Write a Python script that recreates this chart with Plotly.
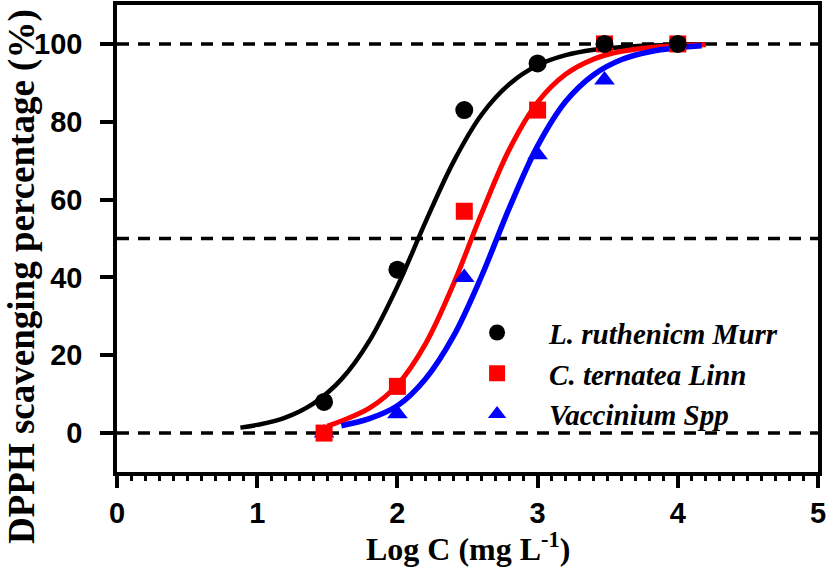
import plotly.graph_objects as go

# ---- data ----
log_c = [1.477, 2.0, 2.477, 3.0, 3.477, 4.0]
murr_pts = [8, 42, 83, 95, 100, 100]
linn_pts = [0, 12, 57, 83, 100, 100]
spp_pts = [0, 5, 40, 71.5, 90.7, 100]

# fitted curves
murr_fit_x = [0.88, 1.0, 1.2, 1.4, 1.6, 1.8, 2.0, 2.2, 2.4, 2.6, 2.8, 3.0, 3.2, 3.4, 3.6, 3.8, 4.0, 4.2]
murr_fit_y = [1.4, 2.1, 4.0, 7.6, 13.8, 23.7, 37.7, 54.2, 69.7, 81.8, 89.7, 94.5, 97.1, 98.5, 99.2, 99.6, 99.8, 99.9]
linn_fit_x = [1.5, 1.6, 1.8, 2.0, 2.2, 2.4, 2.6, 2.8, 3.0, 3.2, 3.4, 3.6, 3.8, 4.0, 4.2]
linn_fit_y = [1.8, 3.1, 6.4, 12.4, 22.9, 38.3, 56.4, 73.0, 85.0, 92.2, 96.1, 98.1, 99.1, 99.6, 99.8]
spp_fit_x = [1.6, 1.8, 2.0, 2.2, 2.4, 2.6, 2.8, 3.0, 3.2, 3.4, 3.6, 3.8, 4.0, 4.17]
spp_fit_y = [1.9, 3.7, 7.0, 13.9, 24.9, 40.3, 58.0, 73.8, 85.2, 92.1, 96.0, 98.0, 99.0, 99.5]

names = ["L. ruthenicm Murr", "C. ternatea Linn", "Vaccinium Spp"]
ref_levels = [0, 50, 100]
x_ticks = [0, 1, 2, 3, 4, 5]
y_ticks = [0, 20, 40, 60, 80, 100]

BLACK, RED, BLUE = "#000000", "#ff0000", "#0000ff"
TICK_FONT = dict(family="Liberation Sans, Arial", size=29, color="black", weight="bold")
SERIF = "Liberation Serif, Times New Roman"

fig = go.Figure()

# dashed reference lines
for lv in ref_levels:
    fig.add_trace(go.Scatter(x=[0, 5], y=[lv, lv], mode="lines",
                             line=dict(color="black", width=3.5, dash="12px,9px"),
                             showlegend=False, hoverinfo="skip"))

# fitted curves
fig.add_trace(go.Scatter(x=murr_fit_x, y=murr_fit_y, mode="lines", line=dict(color=BLACK, width=4.5, shape="spline"),
                         showlegend=False))
fig.add_trace(go.Scatter(x=linn_fit_x, y=linn_fit_y, mode="lines", line=dict(color=RED, width=5, shape="spline"),
                         showlegend=False))
fig.add_trace(go.Scatter(x=spp_fit_x, y=spp_fit_y, mode="lines", line=dict(color=BLUE, width=5.5, shape="spline"),
                         showlegend=False))

# data points
fig.add_trace(go.Scatter(x=log_c, y=spp_pts, mode="markers", name=names[2], legendrank=3,
                         marker=dict(symbol="triangle-up", size=18, color=BLUE)))
fig.add_trace(go.Scatter(x=log_c, y=linn_pts, mode="markers", name=names[1], legendrank=2,
                         marker=dict(symbol="square", size=17, color=RED)))
fig.add_trace(go.Scatter(x=log_c, y=murr_pts, mode="markers", name=names[0], legendrank=1,
                         marker=dict(symbol="circle", size=18, color=BLACK)))

fig.update_xaxes(range=[0, 5], tickvals=x_ticks, ticks="outside", ticklen=12, tickwidth=3.5,
                 tickcolor="black", showline=True, linewidth=3.5, linecolor="black", mirror=True,
                 showgrid=False, zeroline=False, tickfont=TICK_FONT, automargin=False,
                 minor=dict(dtick=0.1, ticks="outside", ticklen=5, tickwidth=3, tickcolor="black", showgrid=False))
fig.update_yaxes(range=[-10, 110], tickvals=y_ticks, ticks="outside", ticklen=13, tickwidth=3.5,
                 tickcolor="black", showline=True, linewidth=3.5, linecolor="black", mirror=True,
                 showgrid=False, zeroline=False, tickfont=TICK_FONT, ticklabelstandoff=12, automargin=False)

fig.update_layout(
    width=827, height=568,
    margin=dict(l=117, r=9, t=5, b=96, autoexpand=False),
    plot_bgcolor="white", paper_bgcolor="white",
    showlegend=True,
    legend=dict(x=0.468, y=0.353, xanchor="left", yanchor="top", bgcolor="rgba(0,0,0,0)",
                itemwidth=94, tracegroupgap=0,
                font=dict(family=SERIF, size=29, color="black", style="italic", weight="bold")),
    annotations=[
        dict(text="DPPH scavenging percentage (%)", xref="paper", yref="paper", x=-0.1355, y=0.4176,
             xanchor="center", yanchor="middle", textangle=-90, showarrow=False,
             font=dict(family=SERIF, size=37, color="black", weight="bold")),
        dict(text="Log C (mg L<sup>-1</sup>)", xref="paper", yref="paper", x=0.5, y=-0.16,
             xanchor="center", yanchor="middle", showarrow=False,
             font=dict(family=SERIF, size=32, color="black", weight="bold")),
    ],
)

fig.write_html("out.html", config={"displayModeBar": False},
               post_script="document.body.style.margin='0';")
